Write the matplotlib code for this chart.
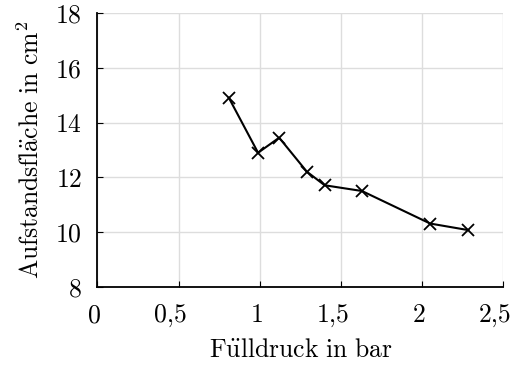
import numpy as np
import matplotlib
matplotlib.use("Agg")
import matplotlib.pyplot as plt
import matplotlib.transforms as mtransforms

plt.rcParams['font.family'] = ['cmr10', 'DejaVu Serif']
plt.rcParams['mathtext.fontset'] = 'cm'
plt.rcParams['axes.formatter.use_mathtext'] = True

# Fülldruck (bar) vs. Aufstandsfläche (cm^2)
druck = [0.81, 0.99, 1.12, 1.29, 1.40, 1.63, 2.05, 2.285]
flaeche = [14.91, 12.90, 13.45, 12.21, 11.71, 11.50, 10.31, 10.07]

xticks = [0, 0.5, 1, 1.5, 2, 2.5]
xlabels = ["0", "0,5", "1", "1,5", "2", "2,5"]
yticks = [8, 10, 12, 14, 16, 18]

fig = plt.figure(figsize=(5.13, 3.65), dpi=100)
ax = fig.add_axes([0.1897, 0.2145, 0.7913, 0.7491])

ax.plot(druck, flaeche, color="black", lw=1.5, marker="x", ms=8, mew=1.3)

ax.set_xlim(0, 2.5)
ax.set_ylim(8, 18)
ax.set_xticks(xticks)
ax.set_xticklabels(xlabels)
ax.set_yticks(yticks)
ax.grid(True, color="#dddddd", lw=1.0)
ax.set_axisbelow(True)
for s in ["top", "right"]:
    ax.spines[s].set_visible(False)
ax.spines["left"].set_linewidth(1.3)
ax.spines["bottom"].set_linewidth(1.3)
ax.tick_params(direction="in", length=4, labelsize=18.5)
ax.tick_params(axis="x", pad=12)
ax.tick_params(axis="y", pad=11)

# labels sit a bit left of their ticks, like in the original
for lab in ax.get_xticklabels():
    dx = -8 if "," in lab.get_text() else -3
    lab.set_transform(lab.get_transform() +
                      mtransforms.ScaledTranslation(dx / 100, 0, fig.dpi_scale_trans))

ax.set_xlabel(r"$\mathrm{F\ddot{u}lldruck\ in\ bar}$", fontsize=18.5, labelpad=8)
ax.set_ylabel(r"$\mathrm{Aufstandsfl\ddot{a}che\ in\ cm^2}$", fontsize=18.5, labelpad=8)

fig.savefig("out.png", dpi=100)
